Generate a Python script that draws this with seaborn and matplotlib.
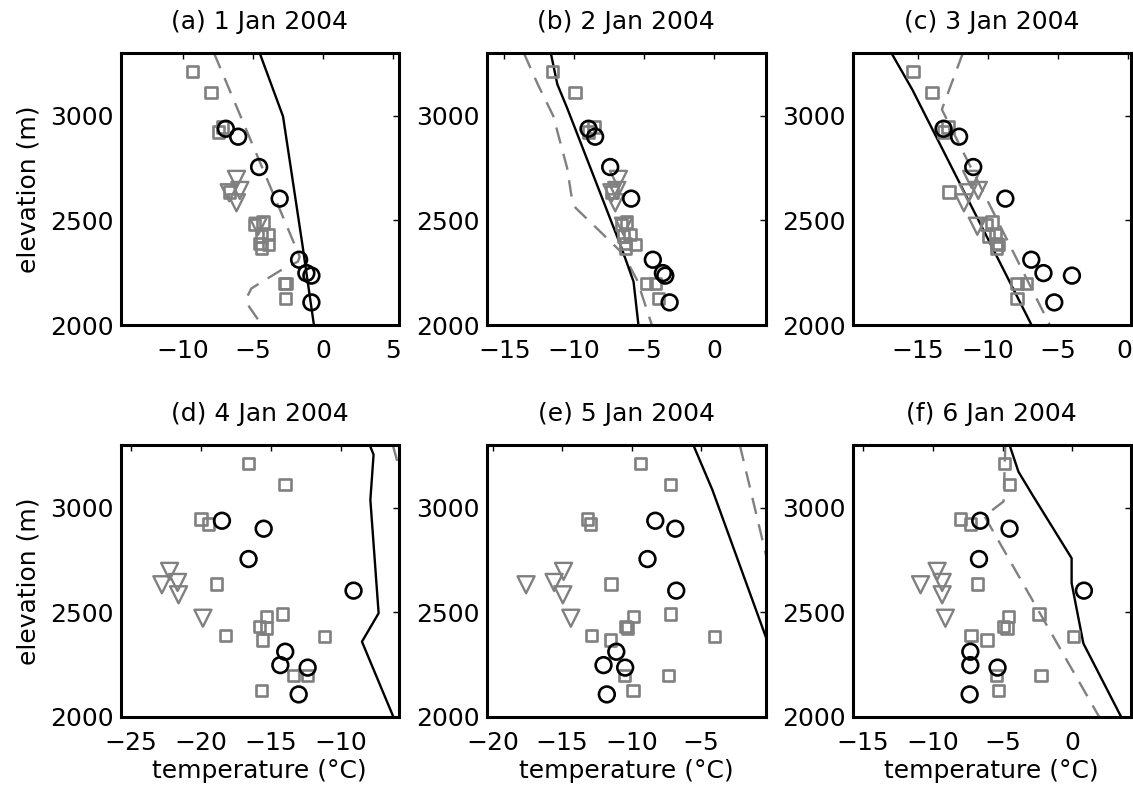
import numpy as np
import pandas as pd
import matplotlib
matplotlib.use("Agg")
import matplotlib.pyplot as plt
import matplotlib.transforms as mtransforms
import seaborn as sns

# ---------------- data ----------------
titles = ["(a) 1 Jan 2004", "(b) 2 Jan 2004", "(c) 3 Jan 2004",
          "(d) 4 Jan 2004", "(e) 5 Jan 2004", "(f) 6 Jan 2004"]

# station elevations (m)
circ_z = [2938, 2900, 2755, 2604, 2312, 2248, 2236, 2108]
sq_z = [3210, 3110, 2946, 2922, 2636, 2492, 2482, 2432, 2426, 2389, 2386, 2368, 2200, 2198, 2126]
tri_z = [2696, 2643, 2632, 2584, 2472]

# observed temperatures (deg C) per day
circ_a = [-6.95, -6.07, -4.57, -3.10, -1.71, -1.19, -0.83, -0.83]
circ_b = [-8.97, -8.50, -7.42, -5.92, -4.37, -3.65, -3.48, -3.17]
circ_c = [-13.18, -12.07, -11.06, -8.77, -6.92, -6.05, -4.02, -5.28]
circ_d = [-18.5, -15.52, -16.6, -9.1, -13.98, -14.33, -12.38, -13.02]
circ_e = [-8.29, -6.85, -8.85, -6.78, -11.1, -12.02, -10.46, -11.78]
circ_f = [-6.6, -4.5, -6.69, 0.83, -7.31, -7.31, -5.36, -7.36]

sq_a = [-9.33, -8.01, -7.2, -7.5, -6.67, -4.3, -4.9, -3.9, -4.4, -4.5, -3.9, -4.4, -2.74, -2.65, -2.67]
sq_b = [-11.55, -9.93, -8.57, -8.97, -7.3, -6.23, -6.59, -6.0, -6.47, -6.35, -5.63, -6.35, -4.2, -4.8, -3.96]
sq_c = [-15.35, -14.0, -12.87, -13.2, -12.8, -9.73, -10.1, -9.49, -9.95, -9.4, -9.25, -9.42, -7.25, -7.93, -7.93]
sq_d = [-16.6, -14.0, -20.0, -19.45, -18.9, -14.17, -15.33, -15.8, -15.33, -18.26, -11.19, -15.6, -13.38, -12.38, -15.7]
sq_e = [-9.33, -7.21, -13.17, -12.98, -11.49, -7.21, -9.86, -10.46, -10.3, -12.9, -4.04, -11.54, -10.5, -7.33, -9.9]
sq_f = [-4.86, -4.5, -8.02, -7.31, -6.79, -2.38, -4.57, -4.93, -4.69, -7.26, 0.07, -6.12, -5.45, -2.24, -5.29]

tri_a = [-6.19, -5.95, -6.71, -6.19, -4.64]
tri_b = [-6.83, -6.95, -7.3, -7.06, -6.47]
tri_c = [-11.18, -10.7, -11.42, -11.73, -10.77]
tri_d = [-22.24, -21.67, -22.79, -21.6, -19.86]
tri_e = [-14.9, -15.58, -17.6, -14.95, -14.375]
tri_f = [-9.69, -9.33, -10.88, -9.33, -9.1]

# profiles: solid black and dashed gray (temperature, elevation)
solid_a_T = [-4.53, -2.86, -1.49, -0.65]
solid_a_z = [3300, 2997, 2391, 2000]
dash_a_T = [-7.8, -1.67, -1.79, -2.98, -5.12, -5.48, -5.29, -4.29]
dash_a_z = [3300, 2327, 2303, 2263, 2175, 2128, 2088, 1992]

solid_b_T = [-11.67, -11.2, -10.5, -6.6, -5.75, -5.4]
solid_b_z = [3300, 3150, 3037, 2367, 2207, 2000]
dash_b_T = [-13.6, -12.6, -11.5, -10.5, -10.2, -9.9, -8.5, -6.5, -5.5, -4.4]
dash_b_z = [3300, 3150, 3000, 2750, 2620, 2560, 2470, 2340, 2215, 1992]

solid_c_T = [-16.9, -15.4, -6.9]
solid_c_z = [3300, 3124, 2000]
dash_c_T = [-11.8, -13.3, -5.6]
dash_c_z = [3300, 3030, 2000]

solid_d_T = [-7.95, -7.67, -7.9, -7.31, -8.5, -6.24]
solid_d_z = [3300, 3254, 3038, 2496, 2360, 1998]
dash_d_T = [-6.3, -5.8]
dash_d_z = [3300, 3180]

solid_e_T = [-5.55, -4.18, 1.77]
solid_e_z = [3300, 3086, 2000]
dash_e_T = [-2.2, -0.3]
dash_e_z = [3300, 2770]

solid_f_T = [-4.5, -3.86, -2.79, -0.05, -0.05, 0.79, 3.52]
solid_f_z = [3300, 3172, 3054, 2759, 2640, 2352, 1998]
dash_f_T = [-4.8, -4.93, -6.3, 1.98]
dash_f_z = [3300, 3030, 2960, 1994]

xlims = [(-14.45, 5.4), (-16.27, 3.69), (-19.64, 0.16),
         (-25.71, -5.89), (-20.45, -0.35), (-15.72, 4.17)]
xticks = [[-10, -5, 0, 5], [-15, -10, -5, 0], [-15, -10, -5, 0],
          [-25, -20, -15, -10], [-20, -15, -10, -5], [-15, -10, -5, 0]]
yticks = [2000, 2500, 3000]

circ_all = [circ_a, circ_b, circ_c, circ_d, circ_e, circ_f]
sq_all = [sq_a, sq_b, sq_c, sq_d, sq_e, sq_f]
tri_all = [tri_a, tri_b, tri_c, tri_d, tri_e, tri_f]
solid_all = [(solid_a_T, solid_a_z), (solid_b_T, solid_b_z), (solid_c_T, solid_c_z),
             (solid_d_T, solid_d_z), (solid_e_T, solid_e_z), (solid_f_T, solid_f_z)]
dash_all = [(dash_a_T, dash_a_z), (dash_b_T, dash_b_z), (dash_c_T, dash_c_z),
            (dash_d_T, dash_d_z), (dash_e_T, dash_e_z), (dash_f_T, dash_f_z)]

# ---------------- style ----------------
sns.set_theme(style="white")
plt.rcParams["font.family"] = ["DejaVu Sans"]
plt.rcParams["text.color"] = "black"
plt.rcParams["axes.labelcolor"] = "black"
plt.rcParams["xtick.color"] = "black"
plt.rcParams["ytick.color"] = "black"
FS = 18
GRAY = "#808080"

fig = plt.figure(figsize=(11.33, 7.92), dpi=100)
W, H = 1133.0, 792.0
col_left = [121, 486.5, 853]
col_w = [277.5, 279, 277.5]
row_top = [53, 445]
ax_h = 272

for i in range(6):
    r, c = divmod(i, 3)
    ax = fig.add_axes([col_left[c] / W, 1 - (row_top[r] + ax_h) / H,
                       col_w[c] / W, ax_h / H])
    # profiles
    dT, dz = dash_all[i]
    sns.lineplot(x=dT, y=dz, sort=False, estimator=None, ax=ax, color=GRAY,
                 linewidth=1.7, dashes=False, linestyle=(0, (7, 4.5)))
    sT, sz = solid_all[i]
    sns.lineplot(x=sT, y=sz, sort=False, estimator=None, ax=ax, color="black",
                 linewidth=1.7)
    # observations
    sns.scatterplot(x=sq_all[i], y=sq_z, marker="s", s=66, facecolor="none",
                    edgecolor=GRAY, linewidth=1.9, ax=ax, zorder=3)
    sns.scatterplot(x=tri_all[i], y=tri_z, marker="v", s=150, facecolor="none",
                    edgecolor=GRAY, linewidth=1.7, ax=ax, zorder=3)
    sns.scatterplot(x=circ_all[i], y=circ_z, marker="o", s=128, facecolor="none",
                    edgecolor="black", linewidth=1.9, ax=ax, zorder=4)

    ax.set_xlim(*xlims[i])
    ax.set_ylim(2000, 3300)
    ax.set_xticks(xticks[i])
    ax.set_yticks(yticks)
    ax.tick_params(direction="in", top=True, right=True, length=4, width=1,
                   labelsize=FS, colors="black")
    ax.tick_params(axis="x", pad=10)
    ax.tick_params(axis="y", pad=5)
    for sp in ax.spines.values():
        sp.set_linewidth(2.2)
        sp.set_color("black")
    ax.set_title(titles[i], fontsize=FS, pad=17, color="black")
    if c == 0:
        ax.set_ylabel("elevation (m)", fontsize=FS, labelpad=7)
    else:
        ax.set_ylabel("")
    if r == 1:
        ax.set_xlabel("temperature (°C)", fontsize=FS, labelpad=3)
    else:
        ax.set_xlabel("")
    ax.grid(False)
    if i == 2:
        # keep the last tick label inside the figure edge
        lab = ax.get_xticklabels()[-1]
        lab.set_transform(lab.get_transform() +
                          mtransforms.ScaledTranslation(-4 / 100, 0, fig.dpi_scale_trans))

fig.savefig("out.png", dpi=100, facecolor="white")
